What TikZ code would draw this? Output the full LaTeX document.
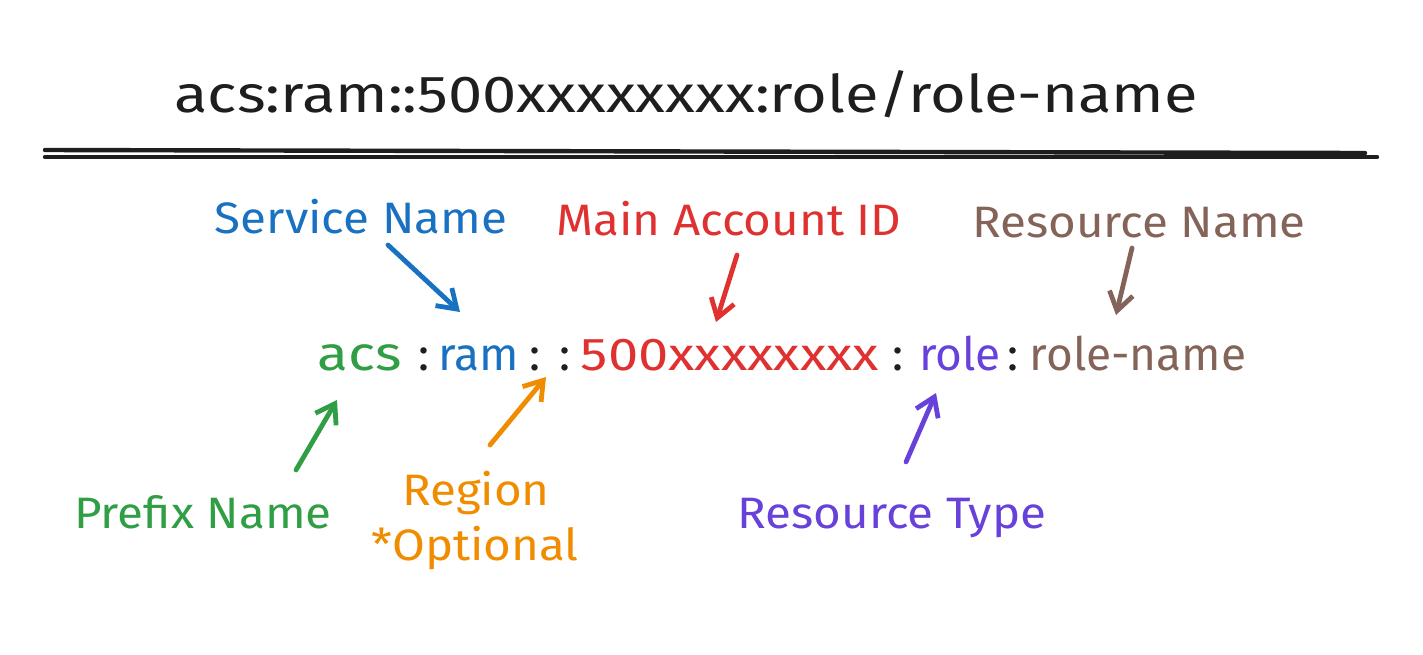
\documentclass[tikz,border=0pt]{standalone}
\usepackage{fontspec}
\setmainfont{Fira Sans}
\newfontfamily\widefont[FakeStretch=1.18]{Fira Sans}
\newfontfamily\labelfont[FakeStretch=1.08]{Fira Sans}
\usetikzlibrary{arrows.meta, calc}

\definecolor{inkblack}{HTML}{1E1E1E}
\definecolor{prefixgreen}{HTML}{2F9E44}
\definecolor{svcblue}{HTML}{1971C2}
\definecolor{acctred}{HTML}{E03131}
\definecolor{resbrown}{HTML}{846358}
\definecolor{typepurple}{HTML}{6741D9}
\definecolor{regionorange}{HTML}{F08C00}

\begin{document}
\begin{tikzpicture}[x=0.5pt, y=-0.5pt,
    txt/.style={anchor=base, inner sep=0pt, font=\labelfont\fontsize{22}{26}\selectfont},
    part/.style={txt, font=\fontsize{23}{27}\selectfont},
    widepart/.style={txt, font=\widefont\fontsize{24}{28}\selectfont},
    pointer/.style={line width=2.4pt, line cap=round, line join=round,
        -{Straight Barb[length=9pt, width=12pt]}}]
\useasboundingbox (0,0) rectangle (1423,654);

% Full ARN and double rule
\node[txt, font=\widefont\fontsize{26}{30}\selectfont, text=inkblack] (arn) at (686,112)
    {acs:ram::500xxxxxxxx:role/role-name};
\draw[line width=2.2pt, line cap=round, inkblack] (45,150) -- (1365,153);
\draw[line width=2.2pt, line cap=round, inkblack] (45,157) -- (1377,157);

% ARN split into parts
\node[widepart, text=prefixgreen] (acs) at (360,370) {acs};
\node[part, text=svcblue] (ram) at (479,370) {ram};
\node[widepart, font=\widefont\fontsize{23}{27}\selectfont, text=acctred] (acctid) at (730,370) {500xxxxxxxx};
\node[part, text=typepurple] (role) at (960,370) {role};
\node[part, text=resbrown] (rolename) at (1138,370) {role-name};
\foreach \c/\x in {c1/424, c2/535, c3/565, c4/898, c5/1013} {
    \node[part, text=inkblack] (\c) at (\x,370) {:};
}

% Labels above
\node[txt, text=svcblue] (svc) at (361,233) {Service Name};
\node[txt, text=acctred] (acct) at (729,235) {Main Account ID};
\node[txt, text=resbrown] (resname) at (1139,237) {Resource Name};

% Labels below
\node[txt, text=prefixgreen] (prefix) at (203,528) {Prefix Name};
\node[txt, text=regionorange] (region) at (476,505) {Region};
\node[txt, text=regionorange] (optional) at (475,560) {*Optional};
\node[txt, text=typepurple] (restype) at (892,528) {Resource Type};

% Pointers
\draw[pointer, svcblue] ($(svc.base)+(27,12)$) -- ($(ram.base)+(-19,-58)$);
\draw[pointer, acctred] ($(acct.base)+(8,20)$) -- ($(acctid.base)+(-14,-48)$);
\draw[pointer, resbrown] ($(resname.base)+(-7,11)$) -- ($(rolename.base)+(-22,-55)$);
\draw[pointer, prefixgreen] ($(prefix.base)+(93,-58)$) -- ($(acs.base)+(-23,30)$);
\draw[pointer, regionorange] ($(region.base)+(14,-60)$) -- ($(c3.base)+(-19,7)$);
\draw[pointer, typepurple] ($(restype.base)+(14,-66)$) -- ($(role.base)+(-24,23)$);
\end{tikzpicture}
\end{document}
